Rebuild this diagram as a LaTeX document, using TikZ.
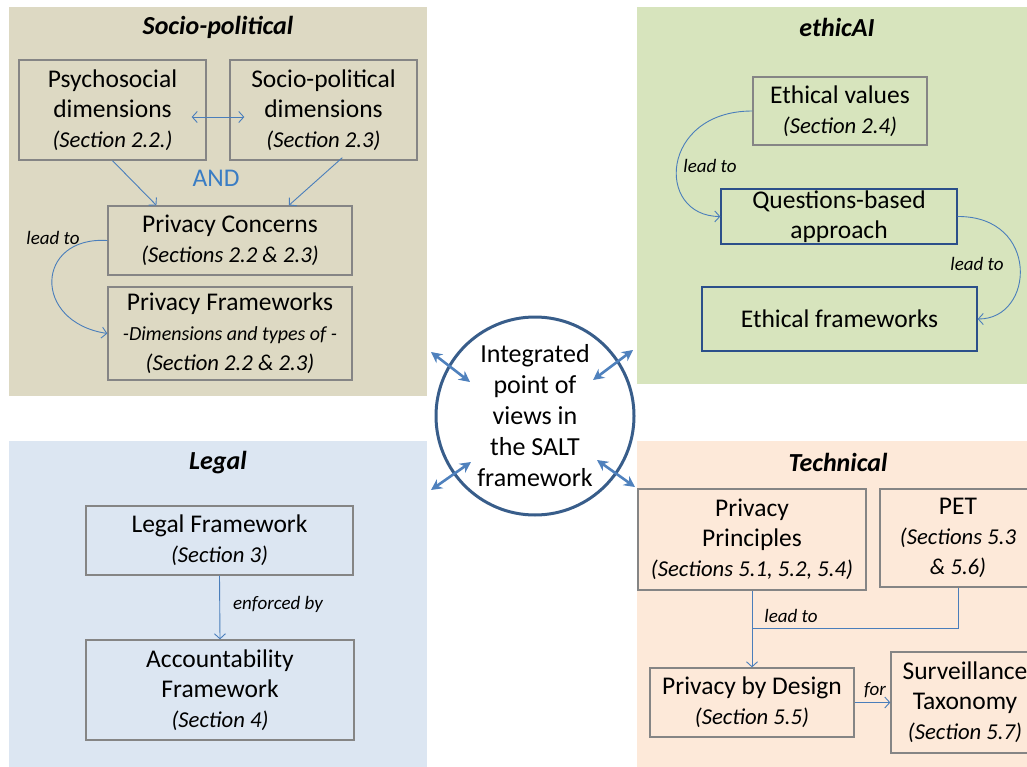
\documentclass[tikz,border=0pt]{standalone}
\usepackage{fontspec}
\setmainfont{Carlito}
\usepackage{tikz}
\usetikzlibrary{positioning,arrows.meta,calc}
\definecolor{SALTsoc}{HTML}{DDD9C3}
\definecolor{SALTeth}{HTML}{D7E4BD}
\definecolor{SALTleg}{HTML}{DCE6F2}
\definecolor{SALTtec}{HTML}{FDE9D9}
\definecolor{SALTgray}{HTML}{858585}
\definecolor{SALTnavy}{HTML}{2B4F8A}
\definecolor{SALTline}{HTML}{4A7EBB}
\definecolor{SALThub}{HTML}{4F81BD}
\definecolor{SALTring}{HTML}{385D8A}
\definecolor{SALTand}{HTML}{3A7DC4}
\newcommand{\saltsec}[1]{{\fontsize{22.7}{30}\selectfont\itshape #1}}
\tikzset{
  panelttl/.style={font=\fontsize{26}{30}\selectfont\bfseries\itshape, text=black, inner sep=0pt},
  graybox/.style={draw=SALTgray, line width=1.3pt, align=center, inner sep=0pt, font=\fontsize{25.5}{30}\selectfont},
  bluebox/.style={graybox, draw=SALTnavy},
  linkarr/.style={-{Straight Barb[length=5pt,width=11pt]}, line width=0.9pt, draw=SALTline},
  linkline/.style={line width=0.9pt, draw=SALTline},
  linklbl/.style={font=\fontsize{19}{22}\selectfont\itshape, inner sep=0pt},
  hubarr/.style={{Stealth[length=11pt,width=11pt]}-{Stealth[length=11pt,width=11pt]}, line width=2.6pt, draw=SALThub}
}

\begin{document}
\begin{tikzpicture}[x=1pt,y=-1pt]
\useasboundingbox (0,0) rectangle (1027,767);
\fill[SALTsoc] (9,7) rectangle (427,396);
\fill[SALTeth] (637,7) rectangle (1027,384);
\fill[SALTleg] (9,441) rectangle (427,767);
\fill[SALTtec] (637,441) rectangle (1027,767);

% Socio-political
\node[panelttl] (ttlsoc) at (218,27) {Socio-political};
\node[graybox, minimum width=187pt, minimum height=100pt] (psy) at (112.5,110) {Psychosocial\\dimensions\\\saltsec{(Section 2.2.)}};
\node[graybox, minimum width=187pt, minimum height=100pt] (spd) at (323.5,110) {Socio-political\\dimensions\\\saltsec{(Section 2.3)}};
\node[graybox, minimum width=244pt, minimum height=69pt] (conc) at (230,240.5) {Privacy Concerns\\\saltsec{(Sections 2.2 \& 2.3)}};
\node[graybox, minimum width=244pt, minimum height=93pt] (frame) at (230,333.5) {Privacy Frameworks\\{\fontsize{20}{26}\selectfont\itshape -Dimensions and types of -}\\\saltsec{(Section 2.2 \& 2.3)}};
\node[font=\fontsize{25.5}{30}\selectfont, text=SALTand, inner sep=0pt] (and) at (216,178) {AND};
\draw[linkarr, {Straight Barb[length=5pt,width=11pt]}-{Straight Barb[length=5pt,width=11pt]}] ($(psy.east)+(-15,7)$) -- ($(spd.west)+(15,7)$);
\draw[linkarr] (psy.south) -- ($(conc.north west)!0.2!(conc.north east)$);
\draw[linkarr] ($(spd.south west)!0.6!(spd.south east)+(0,-3)$) -- ($(conc.north west)!0.74!(conc.north east)$);
\draw[linkarr] (conc.west) .. controls (35,236) and (32,322) .. (frame.west);
\node[linklbl] (lblsoc) at (53,238) {lead to};

% ethicAI
\node[panelttl] (ttleth) at (837,27) {ethicAI};
\node[graybox, minimum width=174pt, minimum height=68pt] (ethval) at (840,111) {Ethical values\\\saltsec{(Section 2.4)}};
\node[bluebox, minimum width=236pt, minimum height=55pt] (qba) at (839,216.5) {Questions-based\\approach};
\node[bluebox, minimum width=275pt, minimum height=64pt] (ethfw) at (839.5,319) {Ethical frameworks};
\draw[linkarr] (ethval.west) .. controls (660,111) and (655,216) .. (qba.west);
\draw[linkarr] (qba.east) .. controls (1040,216) and (1035,319) .. (ethfw.east);
\node[linklbl] (lbleth1) at (710,166) {lead to};
\node[linklbl] (lbleth2) at (977,264) {lead to};

% Legal
\node[panelttl] (ttlleg) at (218,463) {Legal};
\node[graybox, minimum width=267pt, minimum height=69pt] (legfw) at (219.5,540.5) {Legal Framework\\\saltsec{(Section 3)}};
\node[graybox, minimum width=268pt, minimum height=100pt] (accfw) at (220,690) {Accountability\\Framework\\\saltsec{(Section 4)}};
\draw[linkarr] (legfw.south) -- (accfw.north);
\node[linklbl] (lblleg) at (278,604) {enforced by};

% Technical
\node[panelttl] (ttltec) at (838,462) {Technical};
\node[graybox, minimum width=228pt, minimum height=101pt] (pp) at (752,539.5) {Privacy\\Principles\\\saltsec{(Sections 5.1, 5.2, 5.4)}};
\node[graybox, minimum width=156pt, minimum height=98pt] (pet) at (958,538) {PET\\\saltsec{(Sections 5.3}\\\saltsec{\& 5.6)}};
\node[graybox, minimum width=204pt, minimum height=69pt] (pbd) at (752,702.5) {Privacy by Design\\\saltsec{(Section 5.5)}};
\node[graybox, minimum width=148pt, minimum height=101pt] (surv) at (965,702.5) {Surveillance\\Taxonomy\\\saltsec{(Section 5.7)}};
\coordinate (tecjoin) at (752,628);
\draw[linkarr] (pp.south) -- (pbd.north);
\draw[linkline] (pet.south) |- (tecjoin);
\draw[linkarr] (pbd.east) -- (surv.west);
\node[linklbl] (lbltec) at (791,616) {lead to};
\node[linklbl] (lblfor) at (875,690) {for};

% hub
\node[circle, draw=SALTring, line width=3pt, fill=white, minimum size=198pt, align=center, inner sep=0pt, font=\fontsize{26}{31}\selectfont] (hub) at (535,416) {Integrated\\point of\\views in\\the SALT\\framework};
\coordinate (nwa) at (431,352);
\coordinate (nwb) at (470,382);
\coordinate (nea) at (593,380);
\coordinate (neb) at (633,350);
\coordinate (swa) at (431,490);
\coordinate (swb) at (471,462);
\coordinate (sea) at (597,460);
\coordinate (seb) at (635,487);
\draw[hubarr] (nwa) -- (nwb);
\draw[hubarr] (nea) -- (neb);
\draw[hubarr] (swa) -- (swb);
\draw[hubarr] (sea) -- (seb);
\end{tikzpicture}
\end{document}
